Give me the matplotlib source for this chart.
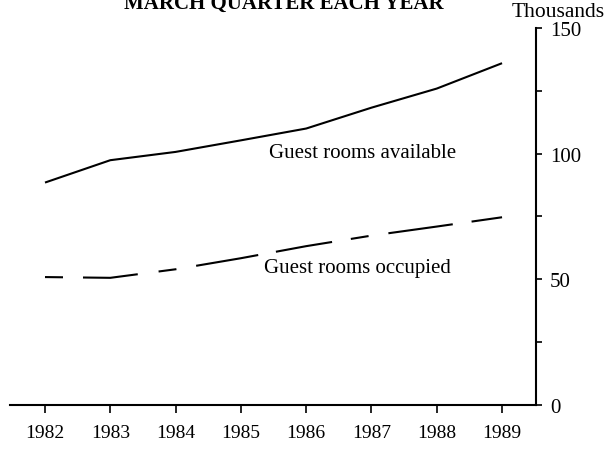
import matplotlib
matplotlib.use("Agg")
import matplotlib.pyplot as plt

years = [1982, 1983, 1984, 1985, 1986, 1987, 1988, 1989]
available = [88.5, 97.4, 100.7, 105.3, 110.0, 118.3, 125.9, 136.0]
occupied = [50.9, 50.6, 54.0, 58.4, 63.2, 67.4, 71.0, 74.7]
yticks = [0, 25, 50, 75, 100, 125, 150]
ytick_labels = ["0", "", "50", "", "100", "", "150"]

plt.rcParams['font.family'] = ['Liberation Serif', 'DejaVu Serif']
plt.rcParams['lines.scale_dashes'] = False

W, H = 610, 452
fig = plt.figure(figsize=(W / 100, H / 100), dpi=100)
ax = fig.add_axes([10 / W, 1 - 406 / H, (536 - 10) / W, (406 - 29) / H])

ax.plot(years, available, color='black', lw=1.5, solid_capstyle='butt')

# dash sequence (on/off lengths in pixels, converted to points)
dash_px = [18, 20, 55, 21, 18, 20, 63, 18, 57, 19, 18, 20, 65, 19, 60, 20]
dash_pt = tuple(v * 0.72 for v in dash_px)
ax.plot(years, occupied, color='black', lw=1.5,
        linestyle=(0, dash_pt), dash_capstyle='butt')

ax.set_xlim(1981.464, 1989.52)
ax.set_ylim(0, 150)

for s in ['top', 'left']:
    ax.spines[s].set_visible(False)
ax.spines['bottom'].set_linewidth(1.5)
ax.spines['right'].set_linewidth(1.5)

ax.yaxis.tick_right()
ax.set_yticks(yticks)
ax.set_yticklabels(ytick_labels)
ax.set_xticks(years)
ax.set_xticklabels([str(y) for y in years])
ax.tick_params(axis='y', direction='out', length=4, width=1.2, pad=6, labelsize=15)
ax.tick_params(axis='x', direction='out', length=6, width=1.2, pad=8, labelsize=14)

fig.text(269 / W, 1 - 157.7 / H, "Guest rooms available",
         fontsize=15, va='baseline', ha='left')
fig.text(264 / W, 1 - 273.3 / H, "Guest rooms occupied",
         fontsize=15, va='baseline', ha='left')

fig.text(558 / W, 1 - 17 / H, "Thousands", fontsize=15.5, ha='center', va='baseline')
fig.text(284 / W, 1 - 8.7 / H, "MARCH QUARTER EACH YEAR", fontsize=15,
         fontweight='bold', ha='center', va='baseline')

fig.savefig("out.png", dpi=100)
